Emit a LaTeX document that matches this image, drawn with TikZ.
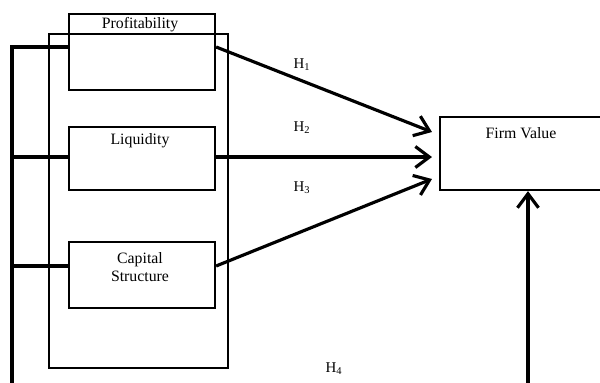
\documentclass[tikz,border=0pt]{standalone}
\usepackage{fontspec}
\setmainfont{Liberation Serif}
\usetikzlibrary{arrows.meta}

\tikzset{
  varbox/.style={draw, line width=1.3pt, minimum width=2.92cm, inner sep=0pt},
  boxtext/.style={font=\fontsize{9}{10.5}\selectfont, align=center, inner sep=0pt},
  hyp/.style={font=\fontsize{8.5}{10}\selectfont, inner sep=0pt},
  link/.style={line width=1.8pt},
  effect/.style={line width=1.8pt, -{Straight Barb[length=2.8mm, width=4.2mm, line width=1.8pt]}}
}

\begin{document}
\begin{tikzpicture}[x=0.02cm, y=-0.02cm]
\useasboundingbox (0,0) rectangle (600,383);
\clip (0,0) rectangle (600,383);
% independent variables
\node[varbox, minimum height=1.52cm] (prof) at (142,52) {};
\node[varbox, minimum height=1.26cm] (liq) at (142,158.5) {};
\node[varbox, minimum height=1.32cm] (cap) at (142,275) {};
\node[boxtext] (proft) at (140,25) {Profitability};
\node[boxtext] (liqt) at (140,141) {Liquidity};
\node[boxtext] (capt) at (140,267) {Capital\\Structure};
% frame round them
\draw[line width=1.3pt] (49,34) rectangle (228,368);
% dependent variable
\node[varbox, minimum width=3.6cm, minimum height=1.46cm] (firm) at (530,153.5) {};
\node[boxtext] (firmt) at (521,133) {Firm Value};
% left bus
\coordinate (b0) at (12,47);
\coordinate (b1) at (12,157);
\coordinate (b2) at (12,266);
\coordinate (b3) at (12,395);
\draw[link] (b3) -- (b0) -- (prof.west |- b0);
\draw[link] (b1) -- (liq.west |- b1);
\draw[link] (b2) -- (cap.west |- b2);
% hypotheses
\coordinate (t1) at (432,132);
\coordinate (t2) at (432,157);
\coordinate (t3) at (432,179);
\draw[effect] (prof.east |- b0) -- (t1);
\draw[effect] (liq.east |- t2) -- (t2);
\draw[effect] (cap.east |- b2) -- (t3);
\coordinate (f0) at (528,395);
\draw[effect] (f0) -- (f0 |- firm.south);
\node[hyp] (h1) at (302,65) {H\textsubscript{1}};
\node[hyp] (h2) at (302,128) {H\textsubscript{2}};
\node[hyp] (h3) at (302,188) {H\textsubscript{3}};
\node[hyp] (h4) at (334,369) {H\textsubscript{4}};
\end{tikzpicture}
\end{document}
